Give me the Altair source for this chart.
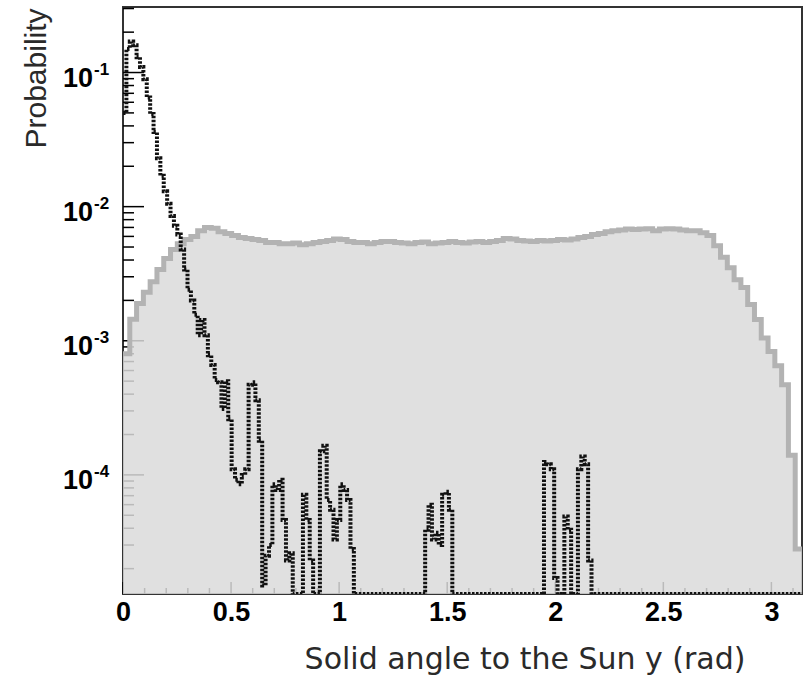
import math
import altair as alt
import pandas as pd

PI = math.pi
Y_MIN = 1.294e-5
Y_MAX = 0.308

# Grey histogram (100 bins over [0, pi])
gray_values = [
    8.0e-4, 1.45e-3, 1.9e-3, 2.3e-3, 2.75e-3, 3.4e-3, 4.1e-3, 4.8e-3, 5.3e-3, 5.7e-3,
    6.0e-3, 6.6e-3, 7.0e-3, 6.9e-3, 6.5e-3, 6.3e-3, 6.1e-3, 5.9e-3, 5.8e-3, 5.7e-3,
    5.6e-3, 5.4e-3, 5.4e-3, 5.3e-3, 5.3e-3, 5.35e-3, 5.2e-3, 5.3e-3, 5.4e-3, 5.5e-3,
    5.6e-3, 5.75e-3, 5.7e-3, 5.5e-3, 5.4e-3, 5.4e-3, 5.3e-3, 5.4e-3, 5.5e-3, 5.5e-3,
    5.4e-3, 5.35e-3, 5.3e-3, 5.4e-3, 5.45e-3, 5.3e-3, 5.35e-3, 5.4e-3, 5.5e-3, 5.4e-3,
    5.35e-3, 5.45e-3, 5.5e-3, 5.4e-3, 5.5e-3, 5.6e-3, 5.8e-3, 5.75e-3, 5.6e-3, 5.55e-3,
    5.5e-3, 5.6e-3, 5.55e-3, 5.6e-3, 5.7e-3, 5.65e-3, 5.75e-3, 5.9e-3, 6.0e-3, 6.2e-3,
    6.3e-3, 6.5e-3, 6.6e-3, 6.7e-3, 6.8e-3, 6.75e-3, 6.8e-3, 6.85e-3, 6.6e-3, 6.8e-3,
    6.85e-3, 6.8e-3, 6.7e-3, 6.6e-3, 6.6e-3, 6.4e-3, 6.1e-3, 5.1e-3, 4.2e-3, 3.5e-3,
    2.85e-3, 2.5e-3, 1.86e-3, 1.44e-3, 1.05e-3, 8.3e-4, 6.5e-4, 4.7e-4, 1.4e-4, 2.8e-5,
]

# Black histogram (200 bins over [0, pi]); 0 = empty bin
black_values = [
    0.05, 0.15, 0.17, 0.16, 0.13, 0.11, 0.089, 0.065, 0.049, 0.036,
    0.023, 0.017, 0.013, 0.0105, 0.0085, 0.0072, 0.0062, 0.0048, 0.0034, 0.0024,
    0.0020, 0.00156, 0.0011, 0.00143, 0.0011, 0.00078, 0.00066, 0.00051, 0.00049, 0.00031,
    0.0005, 0.00026, 0.00011, 0.000092, 0.000085, 0.0001, 0.00011, 0.00047, 0.00049, 0.00036,
    0.00018, 0.000015, 0.000025, 0.00003, 0.000085, 0.000077, 0.000092, 0.000046, 0.000023, 0.000026,
    0.0, 0.0, 0.0, 0.000071, 0.000046, 0.000023, 0.0, 0.0, 0.00015, 0.000165,
    0.000065, 0.000055, 0.000033, 0.000046, 0.000085, 0.000077, 0.000065, 0.000028, 0.0, 0.0,
    0.0, 0.0, 0.0, 0.0, 0.0, 0.0, 0.0, 0.0, 0.0, 0.0,
    0.0, 0.0, 0.0, 0.0, 0.0, 0.0, 0.0, 0.0, 0.0, 0.000039,
    0.00006, 0.000033, 0.000037, 0.00003, 0.000071, 0.000075, 0.000055, 0.0, 0.0, 0.0,
    0.0, 0.0, 0.0, 0.0, 0.0, 0.0, 0.0, 0.0, 0.0, 0.0,
    0.0, 0.0, 0.0, 0.0, 0.0, 0.0, 0.0, 0.0, 0.0, 0.0,
    0.0, 0.0, 0.0, 0.0, 0.000125, 0.00012, 0.00011, 0.000017, 0.0, 0.0,
    0.000049, 0.000039, 0.0, 0.0, 0.00011, 0.000137, 0.00012, 0.000023, 0.0, 0.0,
    0.0, 0.0, 0.0, 0.0, 0.0, 0.0, 0.0, 0.0, 0.0, 0.0,
    0.0, 0.0, 0.0, 0.0, 0.0, 0.0, 0.0, 0.0, 0.0, 0.0,
    0.0, 0.0, 0.0, 0.0, 0.0, 0.0, 0.0, 0.0, 0.0, 0.0,
    0.0, 0.0, 0.0, 0.0, 0.0, 0.0, 0.0, 0.0, 0.0, 0.0,
    0.0, 0.0, 0.0, 0.0, 0.0, 0.0, 0.0, 0.0, 0.0, 0.0,
    0.0, 0.0, 0.0, 0.0, 0.0, 0.0, 0.0, 0.0, 0.0, 0.0,
]

y_major = [1e-4, 1e-3, 1e-2, 1e-1]
y_major_base = ["10", "10", "10", "10"]
y_major_exp = ["-4", "-3", "-2", "-1"]
y_minor = [2e-5, 3e-5, 4e-5, 5e-5, 6e-5, 7e-5, 8e-5, 9e-5,
           2e-4, 3e-4, 4e-4, 5e-4, 6e-4, 7e-4, 8e-4, 9e-4,
           2e-3, 3e-3, 4e-3, 5e-3, 6e-3, 7e-3, 8e-3, 9e-3,
           2e-2, 3e-2, 4e-2, 5e-2, 6e-2, 7e-2, 8e-2, 9e-2,
           2e-1, 3e-1]
x_major = [0, 0.5, 1, 1.5, 2, 2.5, 3]
x_minor = [0.1, 0.2, 0.3, 0.4, 0.6, 0.7, 0.8, 0.9, 1.1, 1.2, 1.3, 1.4,
           1.6, 1.7, 1.8, 1.9, 2.1, 2.2, 2.3, 2.4, 2.6, 2.7, 2.8, 2.9, 3.1]


def hist_frame(values):
    n = len(values)
    xs_ = [i * PI / n for i in range(n)] + [PI]
    vs = [max(v, Y_MIN) for v in values] + [max(values[-1], Y_MIN)]
    return pd.DataFrame({"x": xs_, "v": vs})


gray_df = hist_frame(gray_values)
black_df = hist_frame(black_values)
ymaj_df = pd.DataFrame({"v": y_major, "base": y_major_base, "exp": y_major_exp})
ymin_df = pd.DataFrame({"v": y_minor})
xmaj_df = pd.DataFrame({"x": x_major})
xmin_df = pd.DataFrame({"x": x_minor})

xs = alt.Scale(domain=[0, PI], nice=False, zero=False)
ys = alt.Scale(type="log", domain=[Y_MIN, Y_MAX], nice=False)

x_axis = alt.Axis(
    values=x_major, format="~g", ticks=False, domain=False, grid=False,
    labelFont="Liberation Sans", labelFontSize=27, labelFontWeight="bold",
    labelColor="black", labelPadding=5, labelFlush=False, labelOverlap=False,
    title="Solid angle to the Sun y (rad)", titleFont="DejaVu Sans",
    titleFontSize=30, titleFontWeight="normal", titleColor="#2a2a2a",
    titleX=622, titleY=74, titleAlign="right", titleBaseline="alphabetic",
)
y_axis = alt.Axis(
    labels=False, ticks=False, domain=False, grid=False,
    title="Probability", titleFont="Liberation Sans", titleFontSize=30,
    titleFontWeight="normal", titleColor="#2a2a2a", titleAngle=270,
    titleX=-78, titleY=141, titleAlign="left", titleBaseline="alphabetic",
)

X = lambda f: alt.X(f, scale=xs, axis=x_axis, title="Solid angle to the Sun y (rad)")
Y = lambda f: alt.Y(f, scale=ys, axis=y_axis, title="Probability")

ymaj_ticks = alt.Chart(ymaj_df).mark_rule(color="black", strokeWidth=1.5).encode(
    y=Y("v:Q"), x=alt.value(0), x2=alt.value(21))
ymin_ticks = alt.Chart(ymin_df).mark_rule(color="black", strokeWidth=1.5).encode(
    y=Y("v:Q"), x=alt.value(0), x2=alt.value(11))
xmaj_ticks = alt.Chart(xmaj_df).mark_rule(color="black", strokeWidth=1.5).encode(
    x=X("x:Q"), y=alt.value(587), y2=alt.value(575))
xmin_ticks = alt.Chart(xmin_df).mark_rule(color="black", strokeWidth=1.5).encode(
    x=X("x:Q"), y=alt.value(587), y2=alt.value(581))

area = alt.Chart(gray_df).mark_area(
    interpolate="step-after", color="#dadada", opacity=0.85, clip=True
).encode(x=X("x:Q"), y=Y("v:Q"), y2=alt.datum(Y_MIN))
gray_line = alt.Chart(gray_df).mark_line(
    interpolate="step-after", color="#b3b3b3", strokeWidth=5, clip=True
).encode(x=X("x:Q"), y=Y("v:Q"))
black_line = alt.Chart(black_df).mark_line(
    interpolate="step-after", color="#111111", strokeWidth=4,
    strokeDash=[2.5, 1.5], clip=True
).encode(x=X("x:Q"), y=Y("v:Q"))

base_lbl = alt.Chart(ymaj_df).mark_text(
    align="right", baseline="alphabetic", dy=14, font="Liberation Sans",
    fontSize=27, fontWeight="bold", color="black"
).encode(y=Y("v:Q"), x=alt.value(-30), text="base:N")
exp_lbl = alt.Chart(ymaj_df).mark_text(
    align="left", baseline="alphabetic", dy=2, font="Liberation Sans",
    fontSize=17, fontWeight="bold", color="black"
).encode(y=Y("v:Q"), x=alt.value(-29), text="exp:N")

chart = alt.layer(
    ymaj_ticks, ymin_ticks, xmaj_ticks, xmin_ticks,
    area, gray_line, black_line, base_lbl, exp_lbl
).properties(
    width=679, height=587, autosize="none",
    padding={"left": 123, "top": 7, "right": 4, "bottom": 87},
    background="white",
).configure_view(stroke="#333333", strokeWidth=2)

chart.save("out.html", embed_options={"renderer": "svg", "actions": False})
